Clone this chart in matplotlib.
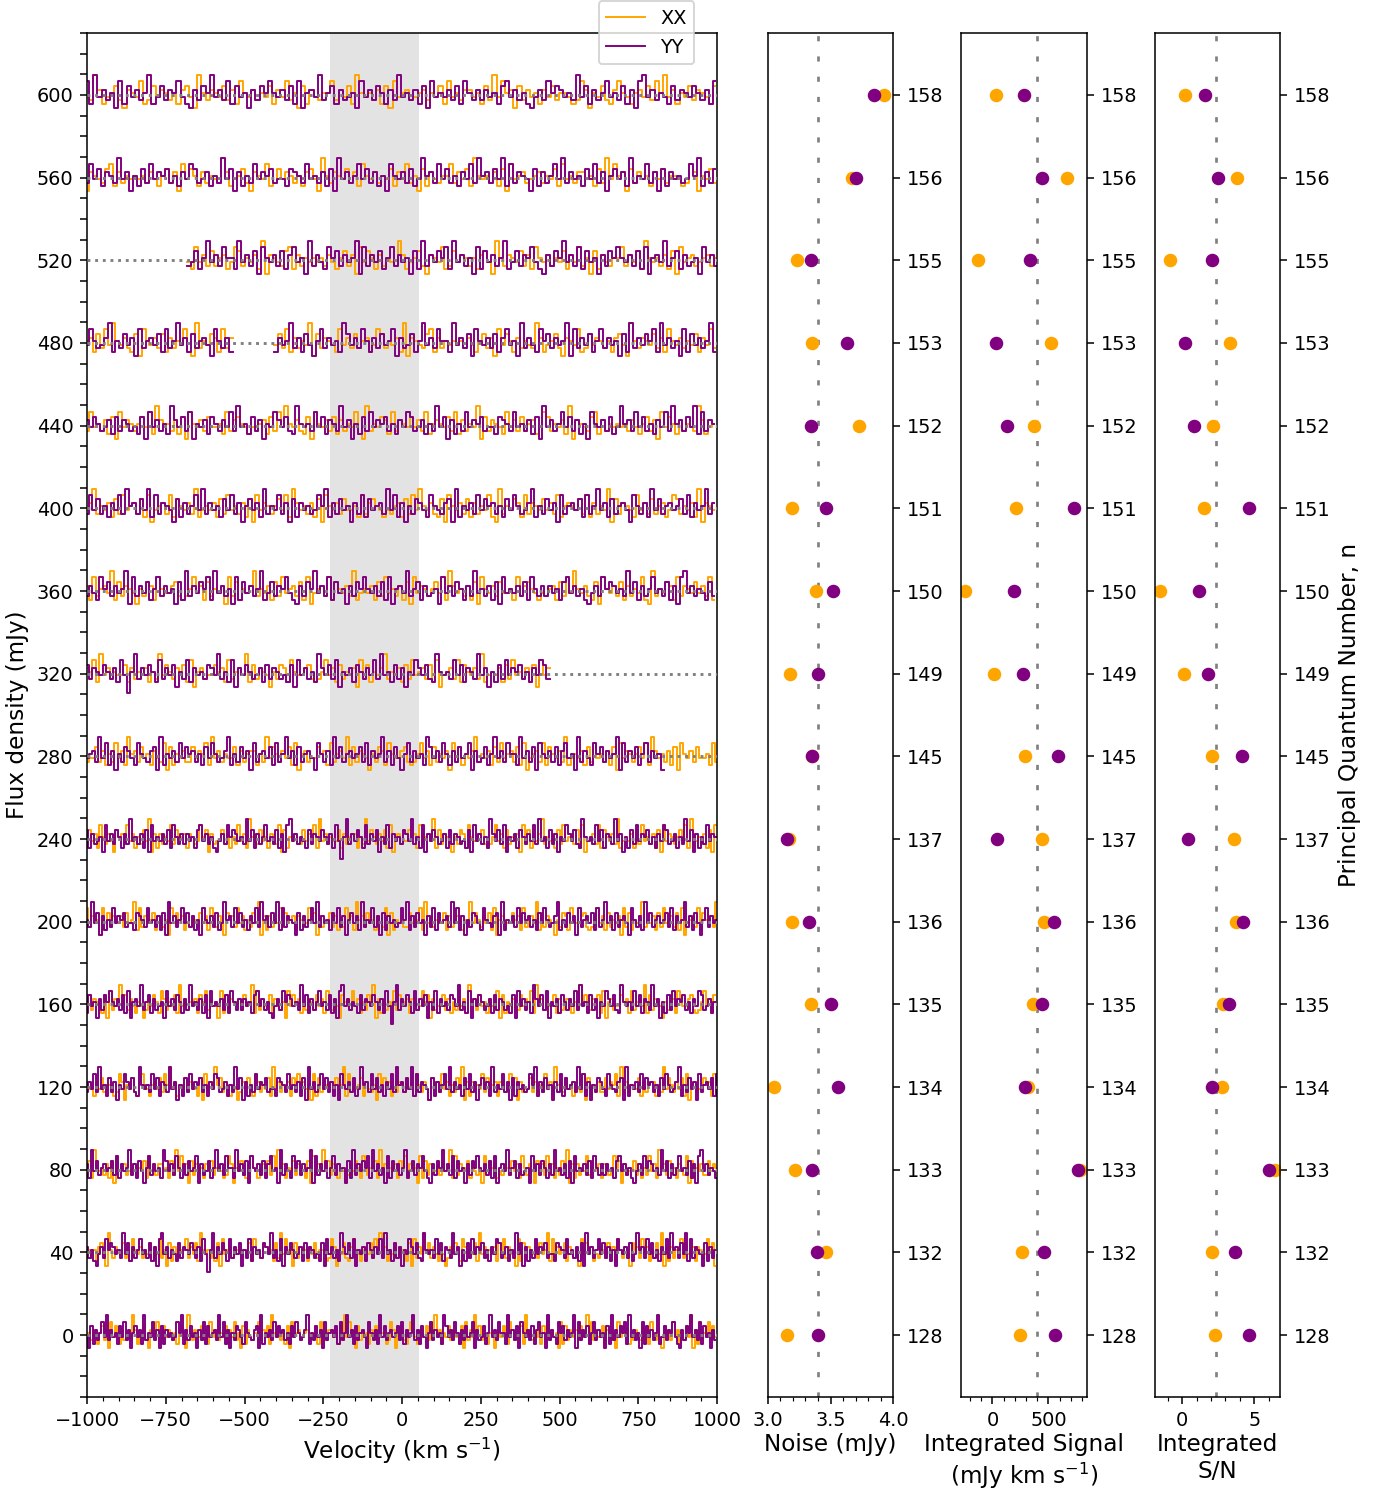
import numpy as np
import matplotlib
matplotlib.use("Agg")
import matplotlib.pyplot as plt
from matplotlib.ticker import MultipleLocator


# principal quantum number of each line and its vertical offset (mJy)
n_levels = [128, 132, 133, 134, 135, 136, 137, 145, 149, 150, 151, 152, 153, 155, 156, 158]
offsets = [0, 40, 80, 120, 160, 200, 240, 280, 320, 360, 400, 440, 480, 520, 560, 600]

# channel width of each spectrum (km/s)
chan_width = [7.0, 7.7, 7.9, 8.0, 8.2, 8.4, 8.6, 10.2, 11.0, 11.3, 11.5, 11.7, 12.0, 12.4, 12.7, 13.2]

# estimated noise of the spectra, one digit per channel, and the flux (mJy) each digit stands for
flux_levels = [-9.5, -6.5, -4.3, -2.6, -0.9, 0.9, 2.6, 4.3, 6.5, 9.5]
pool_xx = ("45364257361847526354396245731654823746535267419536"
           "54736285463547264835172643558364729545362718456345"
           "63547284536645273948561736452647355423861547326854"
           "25647385946254736542718364957364254136475286354729"
           "46354627583645182736546374592836457264351847562436"
           "53746285364175638462537491626354837456265348571634"
           "47362538462956374526438172546337465829463544726356"
           "62539475364728156344756283564927365415376285446732"
           "35846273546183725469354627384563728145638275463924"
           "54627384536271846535748296453627185463744528367542"
           "43562738495463271854637263548219354762836547463825"
           "65473826354917365428463735624873546291654378263545")
pool_yy = ("54637281564935726345184637526394536271845463728536"
           "36452784635214638576453947263584537261894635427365"
           "47536284059364752836471538264537649352816475346273"
           "65342718463529647381546275364839452736154864732954"
           "53847265394615273846573526487346253947162538465734"
           "42765384536271946358473625185463724956384735264839"
           "56374928365417263584936452748361574629354836172645"
           "34859263745163827456394826153764285436719254638475"
           "63527485346925374618356472835946273564185362947356"
           "45738264593627415836452974638526374581634725946385"
           "52946371854637268451936428573645918364725836451729"
           "36475829463518274635924736584216375946382745163758")
start_xx = [0, 37, 81, 125, 163, 209, 251, 298, 333, 372, 417, 455, 502, 541, 587, 19]
start_yy = [311, 58, 442, 176, 590, 233, 14, 367, 96, 521, 288, 140, 405, 463, 201, 555]

# velocity ranges with no data
gaps_both = {155: [(-1000, -686)], 153: [(-540, -410)], 149: [(472, 1000)]}
gaps_yy = {145: [(829, 1000)]}

# per-line measurements
noise_xx = [3.15, 3.46, 3.22, 3.05, 3.34, 3.19, 3.17, 3.35, 3.18, 3.38, 3.19, 3.73, 3.35, 3.23, 3.67, 3.93]
noise_yy = [3.40, 3.39, 3.35, 3.56, 3.50, 3.33, 3.15, 3.35, 3.40, 3.52, 3.46, 3.34, 3.63, 3.34, 3.70, 3.85]
signal_xx = [246, 268, 786, 321, 366, 464, 446, 295, 18, -241, 214, 375, 527, -125, 670, 36]
signal_yy = [558, 464, 768, 295, 446, 554, 45, 589, 277, 196, 732, 134, 36, 339, 446, 286]
snr_xx = [2.29, 2.08, 6.46, 2.78, 2.85, 3.75, 3.61, 2.08, 0.14, -1.53, 1.53, 2.15, 3.33, -0.83, 3.82, 0.21]
snr_yy = [4.65, 3.68, 6.04, 2.08, 3.26, 4.24, 0.42, 4.17, 1.81, 1.18, 4.65, 0.83, 0.21, 2.08, 2.50, 1.60]
noise_ref = 3.40
signal_ref = 398
snr_ref = 2.38

shade = (-228, 55)

C_XX = "orange"
C_YY = "purple"


def spectrum(pool, start, width, gaps):
    vel = np.arange(-1000, 1000.01, width)
    flux = np.array([flux_levels[int(pool[(start + i) % len(pool)])] for i in range(len(vel))])
    for lo, hi in gaps:
        flux[(vel >= lo) & (vel <= hi)] = np.nan
    return vel, flux


fig = plt.figure(figsize=(10.0, 10.75), dpi=138.8)
ax = fig.add_axes([0.0627, 0.0637, 0.4539, 0.9142])
ax_noise = fig.add_axes([0.5533, 0.0637, 0.0901, 0.9142])
ax_sig = fig.add_axes([0.6924, 0.0637, 0.0908, 0.9142])
ax_snr = fig.add_axes([0.8321, 0.0637, 0.0901, 0.9142])

# spectra
ax.axvspan(shade[0], shade[1], color="#e3e3e3", zorder=0, lw=0)
for i, n in enumerate(n_levels):
    off = offsets[i]
    g = gaps_both.get(n, [])
    v, f = spectrum(pool_xx, start_xx[i], chan_width[i], g)
    ax.plot(v, f + off, drawstyle="steps-mid", color=C_XX, lw=1.0,
            label="XX" if i == 0 else None)
    v, f = spectrum(pool_yy, start_yy[i], chan_width[i], g + gaps_yy.get(n, []))
    ax.plot(v, f + off, drawstyle="steps-mid", color=C_YY, lw=1.0,
            label="YY" if i == 0 else None)
    ax.axhline(off, color="gray", ls=":", lw=1.5, zorder=3)

ax.set_xlim(-1000, 1000)
ax.set_ylim(-30, 630)
ax.xaxis.set_major_locator(MultipleLocator(250))
ax.xaxis.set_minor_locator(MultipleLocator(50))
yt = np.arange(-30, 631, 10)
ax.set_yticks(yt)
ax.set_yticklabels([str(t) if (t % 40 == 0 and 0 <= t <= 600) else "" for t in yt])
ax.set_xlabel("Velocity (km s$^{-1}$)", fontsize=12, labelpad=3)
ax.set_ylabel("Flux density (mJy)", fontsize=12)
ax.legend(loc="center", bbox_to_anchor=(0.888, 1.0))

# side panels
side = [
    (ax_noise, noise_xx, noise_yy, noise_ref, "Noise (mJy)"),
    (ax_sig, signal_xx, signal_yy, signal_ref, "Integrated Signal\n(mJy km s$^{-1}$)"),
    (ax_snr, snr_xx, snr_yy, snr_ref, "Integrated\nS/N"),
]
for a, xx, yy, ref, lab in side:
    a.axvline(ref, color="gray", lw=1.4, ls=(0, (1.9, 5.6)), zorder=0)
    a.scatter(xx, offsets, color=C_XX, zorder=2)
    a.scatter(yy, offsets, color=C_YY, zorder=3)
    a.set_ylim(-30, 630)
    a.set_yticks(offsets)
    a.set_yticklabels([str(n) for n in n_levels])
    a.tick_params(axis="y", left=False, labelleft=False, right=True, labelright=True)
    a.set_xlabel(lab, fontsize=12, labelpad=2)

ax_noise.set_xlim(3.0, 4.0)
ax_noise.xaxis.set_major_locator(MultipleLocator(0.5))
ax_noise.xaxis.set_minor_locator(MultipleLocator(0.1))
ax_sig.set_xlim(-280, 845)
ax_sig.xaxis.set_major_locator(MultipleLocator(500))
ax_sig.xaxis.set_minor_locator(MultipleLocator(100))
ax_snr.set_xlim(-1.9, 6.8)
ax_snr.xaxis.set_major_locator(MultipleLocator(5))
ax_snr.xaxis.set_minor_locator(MultipleLocator(1))
ax_snr.yaxis.set_label_position("right")
ax_snr.set_ylabel("Principal Quantum Number, n", fontsize=12)

fig.savefig("out.png", dpi=138.8)
